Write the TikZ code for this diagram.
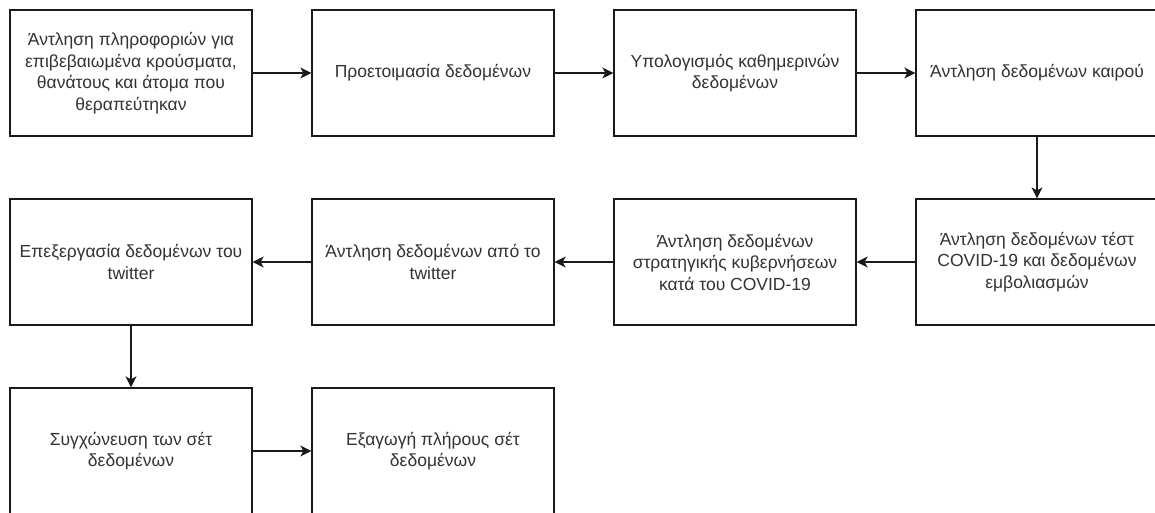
\documentclass[tikz,border=0pt]{standalone}
\usepackage{fontspec}
\setmainfont{Liberation Sans}
\usetikzlibrary{arrows.meta}
\definecolor{linec}{HTML}{1A1A1A}
\definecolor{textc}{HTML}{333333}
\begin{document}
\begin{tikzpicture}[x=1pt,y=-1pt,
  stepbox/.style={draw=linec, line width=1.3pt, fill=white, minimum width=242pt, minimum height=126pt,
    inner sep=0pt, align=center, text=textc, font=\fontsize{17.5}{21.5}\selectfont},
  conn/.style={draw=linec, line width=1.3pt, -{Stealth[length=11pt,width=11pt,inset=3pt]}}]
\clip (0,0) rectangle (1155,513);
\fill[white] (0,0) rectangle (1155,513);
\node[stepbox] (a1) at (131,73) {Άντληση πληροφοριών για\\επιβεβαιωμένα κρούσματα,\\θανάτους και άτομα που\\θεραπεύτηκαν};
\node[stepbox] (a2) at (433,73) {Προετοιμασία δεδομένων};
\node[stepbox] (a3) at (735,73) {Υπολογισμός καθημερινών\\δεδομένων};
\node[stepbox] (a4) at (1037,73) {Άντληση δεδομένων καιρού};
\node[stepbox] (b4) at (1037,262) {Άντληση δεδομένων τέστ\\COVID-19 και δεδομένων\\εμβολιασμών};
\node[stepbox] (b3) at (735,262) {Άντληση δεδομένων\\στρατηγικής κυβερνήσεων\\κατά του COVID-19};
\node[stepbox] (b2) at (433,262) {Άντληση δεδομένων από το\\twitter};
\node[stepbox] (b1) at (131,262) {Επεξεργασία δεδομένων του\\twitter};
\node[stepbox] (c1) at (131,451) {Συγχώνευση των σέτ\\δεδομένων};
\node[stepbox] (c2) at (433,451) {Εξαγωγή πλήρους σέτ\\δεδομένων};
\draw[conn] (a1) -- (a2);
\draw[conn] (a2) -- (a3);
\draw[conn] (a3) -- (a4);
\draw[conn] (a4) -- (b4);
\draw[conn] (b4) -- (b3);
\draw[conn] (b3) -- (b2);
\draw[conn] (b2) -- (b1);
\draw[conn] (b1) -- (c1);
\draw[conn] (c1) -- (c2);
\end{tikzpicture}
\end{document}
